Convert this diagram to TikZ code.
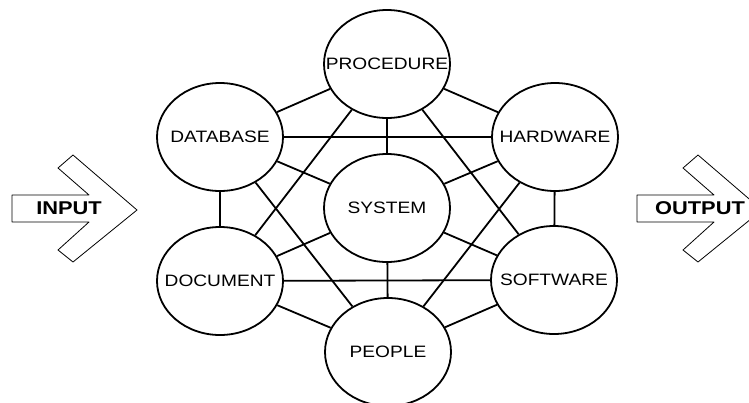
\documentclass[tikz,border=0pt]{standalone}
\usepackage{fontspec}
\setmainfont{Liberation Sans}
\newfontfamily\blobfont[FakeStretch=1.16]{Liberation Sans}
\newfontfamily\arrowfont[FakeStretch=1.18]{Liberation Sans}
\usetikzlibrary{shapes.geometric}
\begin{document}
\begin{tikzpicture}[x=1pt, y=-1pt, line join=round,
        blob/.style={draw, ellipse, line width=1.8pt, minimum width=126pt, minimum height=108pt, inner sep=0pt, font=\blobfont\fontsize{16.5}{16.5}\selectfont},
        link/.style={line width=1.8pt},
        bigarrow/.style={draw, line width=0.8pt, fill=white},
        arrowtext/.style={inner sep=0pt, font=\arrowfont\bfseries\fontsize{18.5}{18.5}\selectfont}]
        \clip (0,0) rectangle (749,402);

        \node[blob] (system) at (387,208) {\makebox[0pt]{SYSTEM}};
        \node[blob] (procedure) at (387,64) {\makebox[0pt]{PROCEDURE}};
        \node[blob] (people) at (388,352) {\makebox[0pt]{PEOPLE}};
        \node[blob] (database) at (220,137) {\makebox[0pt]{DATABASE}};
        \node[blob] (hardware) at (555,137) {\makebox[0pt]{HARDWARE}};
        \node[blob] (document) at (220,281) {\makebox[0pt]{DOCUMENT}};
        \node[blob] (software) at (554,280) {\makebox[0pt]{SOFTWARE}};

        \foreach \a/\b in {system/procedure, system/people, system/database, system/hardware, system/document, system/software,
                procedure/database, procedure/hardware, database/document, hardware/software, document/people, software/people,
                procedure/document, procedure/software, database/hardware, document/software, database/people, hardware/people}
            \draw[link] (\a) -- (\b);

        \draw[bigarrow] (12,195) -- (89,195) -- (58,168) -- (73,155) -- (137,210) -- (73,262) -- (58,250) -- (89,222) -- (12,222) -- cycle;
        \draw[bigarrow] (637,195) -- (714,195) -- (683,168) -- (698,155) -- (762,210) -- (698,262) -- (683,250) -- (714,222) -- (637,222) -- cycle;

        \node[arrowtext] (input) at (69,208) {INPUT};
        \node[arrowtext] (output) at (700,208) {OUTPUT};
    \end{tikzpicture}
\end{document}
